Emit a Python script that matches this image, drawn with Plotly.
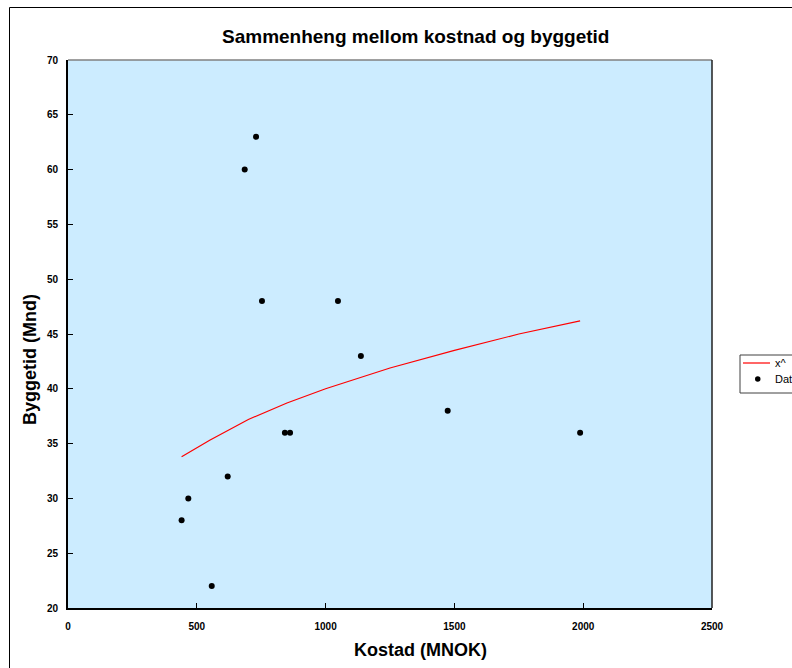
import plotly.graph_objects as go

# Data
cost = [441, 467, 558, 620, 686, 730, 753, 842, 862, 1048, 1137, 1474, 1988]
months = [28, 30, 22, 32, 60, 63, 48, 36, 36, 48, 43, 38, 36]

# Power trendline
trend_x = [441, 550, 700, 850, 1000, 1250, 1500, 1750, 1988]
trend_y = [33.8, 35.3, 37.2, 38.7, 40.0, 41.9, 43.5, 45.0, 46.2]

x_ticks = [0, 500, 1000, 1500, 2000, 2500]
y_ticks = [20, 25, 30, 35, 40, 45, 50, 55, 60, 65, 70]

title_text = "Sammenheng mellom kostnad og byggetid"
x_title = "Kostad (MNOK)"
y_title = "Byggetid (Mnd)"
trend_name = "x^"
data_name = "Data"

FONT = "Liberation Sans, Arial, sans-serif"
W, H = 792, 668
L, R, T, B = 68, 80, 60, 60
PW = W - L - R   # 644
PH = H - T - B   # 548
OFF = 0          # page margin removed below, so figure starts at the window corner


def px_x(s):
    """screen x pixel -> paper x"""
    return (s - OFF - L) / PW


def px_y(s):
    """screen y pixel -> paper y"""
    return (H - B - (s - OFF)) / PH


fig = go.Figure()
fig.add_trace(go.Scatter(
    x=trend_x, y=trend_y, mode="lines", name=trend_name,
    line=dict(color="#FF0000", width=1.2), showlegend=False,
))
fig.add_trace(go.Scatter(
    x=cost, y=months, mode="markers", name=data_name,
    marker=dict(color="black", size=6, symbol="circle"), showlegend=False,
))

# legend drawn by hand (its right part runs off the window, as in the reference)
leg_top, leg_bot, leg_left = 355, 393, 740
row1, row2 = 363, 379

shapes = [
    # outer chart frame
    dict(type="rect", xref="paper", yref="paper",
         x0=px_x(9.5), x1=px_x(900), y0=px_y(900), y1=px_y(7.5),
         line=dict(color="black", width=1), layer="below"),
    # top border of plot area
    dict(type="line", xref="paper", yref="paper",
         x0=0, x1=1, y0=1, y1=1,
         line=dict(color="#808080", width=1.5), layer="above"),
    # right border of plot area
    dict(type="line", xref="paper", yref="paper",
         x0=1, x1=1, y0=0, y1=1,
         line=dict(color="#202020", width=1.5), layer="above"),
    # legend box
    dict(type="rect", xref="paper", yref="paper",
         x0=px_x(leg_left), x1=px_x(900), y0=px_y(leg_bot), y1=px_y(leg_top),
         line=dict(color="#404040", width=1), fillcolor="white", layer="above"),
    # legend line sample
    dict(type="line", xref="paper", yref="paper",
         x0=px_x(743), x1=px_x(770), y0=px_y(row1), y1=px_y(row1),
         line=dict(color="#FF0000", width=1.2), layer="above"),
    # legend marker sample
    dict(type="circle", xref="paper", yref="paper",
         x0=px_x(755), x1=px_x(760.5), y0=px_y(row2 + 2.75), y1=px_y(row2 - 2.75),
         line=dict(color="black", width=0), fillcolor="black", layer="above"),
]

fig.update_layout(
    width=W, height=H,
    margin=dict(l=L, r=R, t=T, b=B, autoexpand=False),
    paper_bgcolor="white",
    plot_bgcolor="#CCECFF",
    font=dict(family=FONT, color="black"),
    showlegend=False,
    xaxis=dict(
        range=[0, 2500], tickvals=x_ticks, ticktext=[str(v) for v in x_ticks],
        ticks="inside", ticklen=5, tickwidth=1, tickcolor="black",
        showline=True, linecolor="black", linewidth=2,
        showgrid=False, zeroline=False,
        tickfont=dict(size=10, family=FONT, weight="bold"),
        ticklabelstandoff=8,
    ),
    yaxis=dict(
        range=[20, 70], tickvals=y_ticks, ticktext=[str(v) for v in y_ticks],
        ticks="inside", ticklen=5, tickwidth=1, tickcolor="black",
        showline=True, linecolor="black", linewidth=2,
        showgrid=False, zeroline=False,
        tickfont=dict(size=10, family=FONT, weight="bold"),
        ticklabelstandoff=6,
    ),
    shapes=shapes,
    annotations=[
        dict(text=title_text, xref="paper", yref="paper",
             x=px_x(415), y=px_y(37), xanchor="center", yanchor="middle",
             showarrow=False, font=dict(size=19, family=FONT, weight="bold")),
        dict(text=x_title, xref="paper", yref="paper",
             x=px_x(420), y=px_y(650), xanchor="center", yanchor="middle",
             showarrow=False, font=dict(size=18, family=FONT, weight="bold")),
        dict(text=y_title, xref="paper", yref="paper",
             x=px_x(30), y=px_y(360), xanchor="center", yanchor="middle",
             textangle=-90,
             showarrow=False, font=dict(size=18, family=FONT, weight="bold")),
        dict(text=trend_name, xref="paper", yref="paper",
             x=px_x(773), y=px_y(row1), xanchor="left", yanchor="middle",
             showarrow=False, font=dict(size=11, family=FONT)),
        dict(text=data_name, xref="paper", yref="paper",
             x=px_x(773), y=px_y(row2), xanchor="left", yanchor="middle",
             showarrow=False, font=dict(size=11, family=FONT)),
    ],
)

fig.write_html(
    "out.html",
    config={"displayModeBar": False},
    post_script="document.body.style.margin='0';document.body.style.overflow='hidden';",
)
